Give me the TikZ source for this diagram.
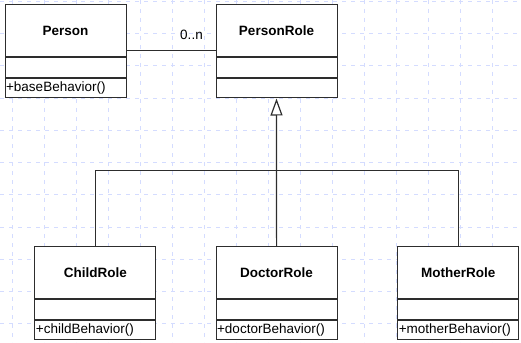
\documentclass[tikz,border=0pt]{standalone}
\usepackage{fontspec}
\setmainfont{Liberation Sans}
\usetikzlibrary{arrows.meta,positioning}
\definecolor{rasterblue}{RGB}{212,220,255}
\definecolor{umlgray}{RGB}{45,45,45}
\tikzset{
    %Define style for the class name boxes
    umlclass/.style={
           rectangle,
           draw=umlgray, line width=1pt,
           fill=white,
           minimum width=121pt,
           minimum height=52pt,
           font=\fontsize{13.5pt}{15pt}\selectfont\bfseries},
    %Define style for attribute and operation rows
    umlrow/.style={
           rectangle,
           draw=umlgray, line width=1pt,
           fill=white,
           minimum width=121pt,
           minimum height=19.5pt,
           text width=119pt,
           inner xsep=0.5pt, inner ysep=0pt,
           align=left,
           font=\fontsize{13.5pt}{15pt}\selectfont},
    % Define line styles
    pil/.style={
           draw=umlgray,
           line width=1pt},
    arv/.style={
           pil,
           line width=1.2pt,
           -{Triangle[open, length=17pt, width=12pt]}},
    raster/.style={
           draw=rasterblue,
           line width=0.8pt,
           dash pattern=on 4pt off 5pt},
}

\begin{document}
\begin{tikzpicture}[x=1pt, y=-1pt]
\useasboundingbox (0,0) rectangle (521,342);

%background grid
\foreach \x in {12,44,...,500}
  \draw[raster] (\x,0) -- (\x,342);
\foreach \y in {1.5,33.7,...,342}
  \draw[raster] (0,\y) -- (521,\y);

%top row: person and its roles
\node[umlclass] (person) at (65.6,31) {Person};
\node[umlrow, below=0pt of person] (person-attr) {};
\node[umlrow, below=0pt of person-attr] (person-ops) {+baseBehavior()};

\node[umlclass] (personrole) at (276.5,31) {PersonRole};
\node[umlrow, below=0pt of personrole] (personrole-attr) {};
\node[umlrow, below=0pt of personrole-attr] (personrole-ops) {};

%bottom row: the concrete roles
\node[umlclass] (childrole) at (95.4,272.7) {ChildRole};
\node[umlrow, below=0pt of childrole] (childrole-attr) {};
\node[umlrow, below=0pt of childrole-attr] (childrole-ops) {+childBehavior()};

\node[umlclass] (doctorrole) at (276.6,272.7) {DoctorRole};
\node[umlrow, below=0pt of doctorrole] (doctorrole-attr) {};
\node[umlrow, below=0pt of doctorrole-attr] (doctorrole-ops) {+doctorBehavior()};

\node[umlclass] (motherrole) at (458.3,272.7) {MotherRole};
\node[umlrow, below=0pt of motherrole] (motherrole-attr) {};
\node[umlrow, below=0pt of motherrole-attr] (motherrole-ops) {+motherBehavior()};

%association person -- roles
\draw[pil] ([yshift=7pt]person.south east) -- node[pos=0.73, above=10pt, inner sep=0pt,
  font=\fontsize{13.5pt}{15pt}\selectfont] {0..n} ([yshift=7pt]personrole.south west);

%generalization
\draw[pil] (childrole.north) -- ++(0,-76) -| (motherrole.north);
\draw[arv] (doctorrole.north) -- (personrole-ops.south);

\end{tikzpicture}
\end{document}
